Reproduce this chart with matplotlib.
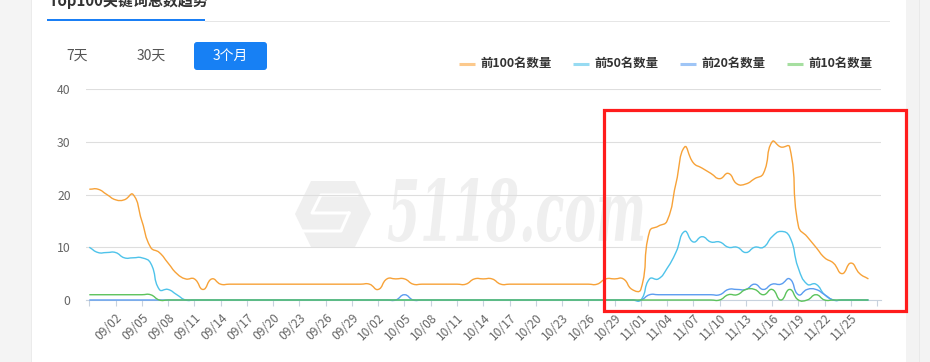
import matplotlib
matplotlib.use("Agg")

import matplotlib.pyplot as plt
import numpy as np
from matplotlib.font_manager import FontProperties
from matplotlib.lines import Line2D
from matplotlib.patches import FancyBboxPatch, PathPatch, Polygon, Rectangle
from matplotlib.path import Path
from matplotlib.textpath import TextPath
from matplotlib.transforms import Affine2D

plt.rcParams["font.family"] = ["Noto Sans CJK SC", "DejaVu Sans"]

W, H = 930, 362

# ---- data (one value per day, 08/30 .. 11/27) ----
TOP100 = [21, 21, 20, 19, 19, 20, 15, 10, 9, 7, 5, 4, 4, 2, 4,
          3, 3, 3, 3, 3, 3, 3, 3, 3, 3, 3, 3, 3, 3, 3, 3, 3, 3, 2,
          4, 4, 4, 3, 3, 3, 3, 3, 3, 3, 4, 4, 4,
          3, 3, 3, 3, 3, 3, 3, 3, 3, 3, 3, 3, 4, 4, 4, 2, 2,
          13, 14, 15, 22, 29, 26, 25, 24, 23, 24, 22, 22, 23, 24, 30, 29, 29,
          14, 12, 10, 8, 7, 5, 7, 5, 4]
TOP50 = [10, 9, 9, 9, 8, 8, 8, 7, 2, 2, 1] + [0] * 53 + \
        [4, 4, 6, 9, 13, 11, 12, 11, 11, 10, 10, 9, 10, 10, 12, 13, 12,
         6, 3, 3, 1, 0, 0, 0, 0, 0]
TOP20 = [0] * 36 + [1] + [0] * 27 + \
        [1, 1, 1, 1, 1, 1, 1, 1, 1, 2, 2, 2, 3, 2, 3, 3, 4,
         1, 2, 2, 1, 0, 0, 0, 0, 0]
TOP10 = [1] * 8 + [0] * 65 + \
        [1, 1, 2, 2, 1, 2, 0, 2, 0, 0, 1, 0, 0, 0, 0, 0, 0]

SERIES = ["前100名数量", "前50名数量", "前20名数量", "前10名数量"]
COLORS = ["#f7a238", "#4ec3ea", "#5b9cf0", "#5cc35c"]
LEGEND_COLORS = ["#fcc98c", "#97dbf2", "#9fc5f6", "#a6dfa0"]

TICK_LABELS = ["09/02", "09/05", "09/08", "09/11", "09/14", "09/17", "09/20",
               "09/23", "09/26", "09/29", "10/02", "10/05", "10/08", "10/11",
               "10/14", "10/17", "10/20", "10/23", "10/26", "10/29", "11/01",
               "11/04", "11/07", "11/10", "11/13", "11/16", "11/19", "11/22",
               "11/25"]
N_CAT = 91  # axis runs one category past the last data point
TABS = ["7天", "30天", "3个月"]


def smooth_path(xs, ys, kx, ky, smooth=0.5):
    """Bezier path like echarts' smooth line; kx/ky scale data to pixels."""
    pts = np.column_stack([np.asarray(xs, float) * kx, np.asarray(ys, float) * ky])
    n = len(pts)
    cin, cout = pts.copy(), pts.copy()
    for i in range(n):
        p = pts[i]
        prev = pts[i - 1] if i > 0 else p
        nxt = pts[i + 1] if i < n - 1 else p
        v = (nxt - prev) * smooth
        d0 = np.hypot(*(p - prev))
        d1 = np.hypot(*(nxt - p))
        s = d0 + d1
        if s > 0:
            d0, d1 = d0 / s, d1 / s
        cin[i] = p - v * d0
        cout[i] = p + v * d1
    verts = [pts[0]]
    codes = [Path.MOVETO]
    for i in range(n - 1):
        verts += [cout[i], cin[i + 1], pts[i + 1]]
        codes += [Path.CURVE4] * 3
    verts = np.array(verts) / [kx, ky]
    return Path(verts, codes)


def frac(x, y, w=0, h=0):
    return [x / W, (H - y - h) / H, w / W, h / H]


fig = plt.figure(figsize=(W / 100, H / 100), dpi=100)

# ---- page / card background ----
bg = fig.add_axes([0, 0, 1, 1], zorder=0)
bg.set_xlim(0, W)
bg.set_ylim(H, 0)
bg.axis("off")
bg.add_patch(Rectangle((0, 0), 32, H, color="#f4f4f4", lw=0))
bg.add_patch(Rectangle((31, 0), 1, H, color="#ebebeb", lw=0))
bg.add_patch(Rectangle((906, 0), 24, H, color="#f3f3f3", lw=0))
bg.add_patch(Rectangle((919, 0), 1, H, color="#e9e9e9", lw=0))

# header (cut off at the top, as in the screenshot)
bg.text(48, 6, "Top100关键词总数趋势", fontsize=10.8, fontweight="bold",
        color="#333333", ha="left", va="baseline")
bg.add_patch(Rectangle((205, 20.5), 685, 1, color="#e6e6e6", lw=0))
bg.add_patch(Rectangle((47, 19), 158, 2.2, color="#1a7ff5", lw=0))

# tabs
bg.text(77, 56, TABS[0], fontsize=10, color="#555555", ha="center", va="center")
bg.text(151, 56, TABS[1], fontsize=10, color="#555555", ha="center", va="center")
bg.add_patch(FancyBboxPatch((194, 42), 73, 28, boxstyle="round,pad=0,rounding_size=3",
                            color="#1780f4", lw=0))
bg.text(230.5, 56, TABS[2], fontsize=10, color="white", ha="center", va="center")

# legend
leg_x = [459, 573, 680, 787]
for lx, name, c in zip(leg_x, SERIES, LEGEND_COLORS):
    bg.add_line(Line2D([lx, lx + 16], [63.5, 63.5], color=c, lw=2.2,
                       solid_capstyle="butt"))
    bg.text(lx + 21, 63.5, name, fontsize=8.9, fontweight="bold", color="#333333",
            ha="left", va="center")

# watermark
fp = FontProperties(family="DejaVu Serif", weight="bold", style="italic")
digits = TextPath((0, 0), "5118", prop=fp, size=100)
wm = TextPath((0, 0), "5118.com", prop=fp, size=100)
ext_d = digits.get_extents()
ext_w = wm.get_extents()
sx = 255 / ext_w.width
sy = 64 / ext_d.height
tr = Affine2D().translate(-ext_w.x0, -ext_d.y0).scale(sx, -sy).translate(388, 242) + bg.transData
bg.add_patch(PathPatch(wm, transform=tr, color="#efefef", lw=0))
hexagon = [(295, 214), (311, 181), (355, 181), (371, 214), (355, 247), (311, 247)]
bg.add_patch(Polygon(hexagon, closed=True, color="#efefef", lw=0))
bg.add_line(Line2D([357, 321, 312, 349], [195, 195, 213, 213], color="white", lw=2.2))
bg.add_line(Line2D([349, 341, 301], [213, 231, 231], color="white", lw=2.2))

# ---- chart ----
X0, X90 = 89.3, 877.2
step = (X90 - X0) / (N_CAT - 1)
ax = fig.add_axes(frac(86, 89, 795, 211), zorder=1)
ax.set_facecolor("none")
ax.set_xlim((86 - X0) / step, (N_CAT - 1) + (881 - X90) / step)
ax.set_ylim(0, 40)
kx = step
ky = 211 / 40

x = np.arange(len(TOP100))
for vals, c in zip([TOP100, TOP50, TOP20, TOP10], COLORS):
    path = smooth_path(x, vals, kx, ky)
    ax.add_patch(PathPatch(path, facecolor="none", edgecolor=c, lw=1.0,
                           zorder=4, clip_on=False))

for side in ["top", "right", "left"]:
    ax.spines[side].set_visible(False)
ax.spines["bottom"].set_color("#c8d2de")
ax.spines["bottom"].set_linewidth(0.8)

ax.set_yticks([0, 10, 20, 30, 40])
ax.yaxis.grid(True, color="#dedede", lw=0.8)
ax.tick_params(axis="y", length=0, pad=11, labelsize=8.8, labelcolor="#666666")

ticks = list(range(0, N_CAT, 3))
labels = [""] + TICK_LABELS + [""]
ax.set_xticks(ticks, labels)
ax.tick_params(axis="x", length=4, width=0.8, color="#c8d2de", pad=4,
               labelsize=8.7, labelcolor="#666666")
for lbl in ax.get_xticklabels():
    lbl.set_rotation(45)
    lbl.set_ha("right")
    lbl.set_va("top")
    lbl.set_rotation_mode("anchor")
ax.set_axisbelow(True)

# ---- highlight box ----
top = fig.add_axes([0, 0, 1, 1], zorder=5)
top.set_xlim(0, W)
top.set_ylim(H, 0)
top.axis("off")
top.add_patch(Rectangle((603.5, 109.5), 302.5, 201.5, fill=False,
                        edgecolor="#ff1c1c", lw=2.3))

fig.savefig("out.png", dpi=100)
